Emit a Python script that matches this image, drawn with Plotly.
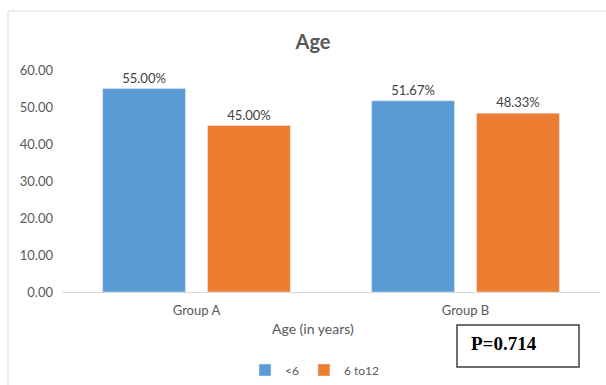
import plotly.graph_objects as go

groups = ["Group A", "Group B"]
under_6 = [55.00, 51.67]
six_to_12 = [45.00, 48.33]
y_ticks = [0, 10, 20, 30, 40, 50, 60]
y_tick_text = ["0.00", "10.00", "20.00", "30.00", "40.00", "50.00", "60.00"]

W, H = 606, 385
L, R, T, B = 62, 6, 70, 93
pw, ph = W - L - R, H - T - B


def px_x(x):
    return (x - L) / pw


def px_y(y):
    return (H - B - y) / ph


font = "Lato, 'Open Sans', sans-serif"
gray = "#595959"

fig = go.Figure()
fig.add_trace(go.Bar(
    name="<6", x=groups, y=under_6, marker_color="#5B9BD5",
    text=[f"{v:.2f}%" for v in under_6], textposition="outside",
    textfont=dict(size=13, color="#404040", family=font), cliponaxis=False,
))
fig.add_trace(go.Bar(
    name="6 to12", x=groups, y=six_to_12, marker_color="#ED7D31",
    text=[f"{v:.2f}%" for v in six_to_12], textposition="outside",
    textfont=dict(size=13, color="#404040", family=font), cliponaxis=False,
))

fig.update_layout(
    width=W, height=H,
    margin=dict(l=L, r=R, t=T, b=B, autoexpand=False),
    paper_bgcolor="white", plot_bgcolor="white",
    barmode="group", bargap=0.22, bargroupgap=0.21,
    font=dict(family=font, color=gray, size=13),
    title=dict(text="<b>Age</b>", x=313 / W, xanchor="center",
               y=1 - 42 / H, yanchor="middle",
               font=dict(size=20, color=gray, family=font)),
    showlegend=True,
    legend=dict(orientation="h", xref="container", yref="container",
                x=315 / W, xanchor="center",
                y=1 - 370 / H, yanchor="middle",
                font=dict(size=12, color=gray, family=font),
                itemwidth=30, tracegroupgap=0, bgcolor="rgba(0,0,0,0)"),
    xaxis=dict(showline=True, linecolor="#D9D9D9", linewidth=1,
               ticks="", showgrid=False, zeroline=False,
               ticklabelstandoff=6,
               tickfont=dict(size=13, color=gray)),
    yaxis=dict(range=[0, 60], tickvals=y_ticks, ticktext=y_tick_text,
               showgrid=False, zeroline=False, showline=False,
               ticks="", ticklabelstandoff=8,
               tickfont=dict(size=13, color=gray)),
)

# x axis title
fig.add_annotation(text="Age (in years)", xref="paper", yref="paper",
                   x=px_x(313), y=px_y(328), yanchor="middle",
                   showarrow=False,
                   font=dict(size=14, color=gray, family=font))

# p-value box
fig.add_shape(type="rect", xref="paper", yref="paper",
              x0=px_x(457), x1=px_x(579), y0=px_y(367), y1=px_y(325),
              line=dict(color="#404040", width=1.5), fillcolor="white")
fig.add_annotation(text="<b>P=0.714</b>", xref="paper", yref="paper",
                   x=px_x(469), y=px_y(343), xanchor="left", yanchor="middle",
                   showarrow=False,
                   font=dict(size=19, color="black",
                             family="'Liberation Serif', 'DejaVu Serif', serif"))

# outer chart frame
fig.add_shape(type="rect", xref="paper", yref="paper",
              x0=px_x(8), x1=px_x(640), y0=px_y(420), y1=px_y(11),
              line=dict(color="#D9D9D9", width=1), layer="below")

fig.write_html("out.html")
